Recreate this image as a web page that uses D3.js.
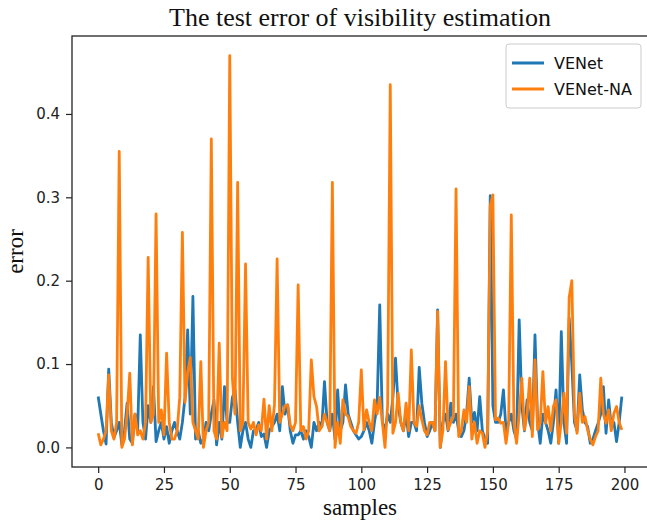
<!doctype html>
<html lang="en">
<head>
  <meta charset="utf-8">
  <title>The test error of visibility estimation</title>
  <script src="https://cdn.jsdelivr.net/npm/d3@7"></script>
  <style>
    body { margin: 0; background: #fff; }
  </style>
</head>
<body>
  <svg id="chart" width="647" height="524"></svg>
  <script>
    // series values, one per sample (0..199)
    var venet = [
      0.061, 0.04, 0.02, 0.004, 0.094, 0.03, 0.012, 0.02, 0.03, 0.003,
      0.02, 0.053, 0.01, 0.005, 0.04, 0.02, 0.135, 0.03, 0.01, 0.05,
      0.03, 0.073, 0.007, 0.02, 0.03, 0.01, 0.025, 0.005, 0.02, 0.03,
      0.02, 0.01, 0.03, 0.06, 0.141, 0.04, 0.181, 0.01, 0.02, 0.005,
      0.01, 0.03, 0.02, 0.04, 0.057, 0.003, 0.03, 0.01, 0.073, 0.03,
      0.03, 0.06, 0.069, 0.03, 0.0, 0.02, 0.03, 0.01, 0.0, 0.02,
      0.021, 0.03, 0.013, 0.016, 0.0, 0.02, 0.025, 0.03, 0.04, 0.02,
      0.073, 0.04, 0.051, 0.02, 0.005, 0.015, 0.015, 0.02, 0.01, 0.02,
      0.013, 0.0, 0.03, 0.02, 0.03, 0.025, 0.079, 0.03, 0.02, 0.04,
      0.01, 0.069, 0.02, 0.03, 0.075, 0.04, 0.03, 0.02, 0.015, 0.01,
      0.013, 0.02, 0.03, 0.02, 0.005, 0.03, 0.05, 0.171, 0.03, 0.02,
      0.04, 0.03, 0.06, 0.107, 0.05, 0.03, 0.02, 0.04, 0.013, 0.03,
      0.03, 0.02, 0.096, 0.053, 0.03, 0.013, 0.02, 0.03, 0.02, 0.165,
      0.0, 0.03, 0.04, 0.02, 0.053, 0.03, 0.04, 0.02, 0.013, 0.02,
      0.04, 0.083, 0.03, 0.042, 0.02, 0.061, 0.02, 0.01, 0.005, 0.302,
      0.05, 0.03, 0.03, 0.04, 0.069, 0.02, 0.03, 0.04, 0.02, 0.01,
      0.153, 0.05, 0.02, 0.057, 0.03, 0.02, 0.135, 0.03, 0.005, 0.04,
      0.03, 0.02, 0.005, 0.03, 0.069, 0.005, 0.139, 0.03, 0.005, 0.155,
      0.1, 0.03, 0.02, 0.087, 0.045, 0.03, 0.025, 0.005, 0.01, 0.02,
      0.029, 0.04, 0.073, 0.017, 0.057, 0.025, 0.03, 0.007, 0.03, 0.061
    ];
    var venetNA = [
      0.017, 0.003, 0.01, 0.02, 0.087, 0.02, 0.01, 0.03, 0.355, 0.0,
      0.01, 0.04, 0.089, 0.003, 0.04, 0.015, 0.02, 0.01, 0.03, 0.228,
      0.03, 0.04, 0.28, 0.03, 0.045, 0.015, 0.113, 0.03, 0.01, 0.01,
      0.02, 0.06, 0.258, 0.054, 0.09, 0.108, 0.03, 0.02, 0.01, 0.103,
      0.0, 0.02, 0.03, 0.37, 0.02, 0.01, 0.125, 0.012, 0.03, 0.02,
      0.47, 0.083, 0.04, 0.318, 0.02, 0.03, 0.22, 0.03, 0.022, 0.03,
      0.015, 0.027, 0.02, 0.058, 0.01, 0.05, 0.02, 0.051, 0.226, 0.03,
      0.04, 0.05, 0.051, 0.027, 0.02, 0.03, 0.195, 0.02, 0.025, 0.01,
      0.02, 0.105, 0.061, 0.049, 0.02, 0.025, 0.04, 0.03, 0.02, 0.318,
      0.0, 0.03, 0.005, 0.057, 0.04, 0.037, 0.025, 0.02, 0.017, 0.03,
      0.093, 0.021, 0.045, 0.03, 0.02, 0.057, 0.04, 0.06, 0.03, 0.0,
      0.05, 0.435, 0.017, 0.03, 0.065, 0.03, 0.02, 0.053, 0.02, 0.117,
      0.03, 0.025, 0.05, 0.033, 0.02, 0.015, 0.03, 0.03, 0.02, 0.163,
      0.0, 0.02, 0.103, 0.021, 0.03, 0.037, 0.31, 0.013, 0.02, 0.045,
      0.03, 0.073, 0.01, 0.03, 0.005, 0.02, 0.017, 0.0, 0.02, 0.29,
      0.303, 0.033, 0.035, 0.029, 0.03, 0.005, 0.03, 0.279, 0.03, 0.005,
      0.04, 0.083, 0.021, 0.04, 0.083, 0.013, 0.105, 0.021, 0.03, 0.091,
      0.029, 0.049, 0.02, 0.049, 0.057, 0.005, 0.03, 0.065, 0.017, 0.18,
      0.2, 0.04, 0.017, 0.065, 0.03, 0.037, 0.021, 0.01, 0.003, 0.013,
      0.02, 0.083, 0.04, 0.029, 0.045, 0.02, 0.041, 0.049, 0.03, 0.021
    ];
    var seriesNames = ["VENet", "VENet-NA"];
    var seriesColors = ["#1f77b4", "#ff7f0e"];
    var xTicks = [0, 25, 50, 75, 100, 125, 150, 175, 200];
    var yTicks = [0.0, 0.1, 0.2, 0.3, 0.4];

    var svg = d3.select("#chart");
    // plot box (right edge sits just past the picture, as in the original)
    var boxL = 72, boxR = 648, boxT = 36, boxB = 467;

    var n = venet.length;
    var allVals = venet.concat(venetNA);
    var yMin = d3.min(allVals), yMax = d3.max(allVals);
    var yPad = (yMax - yMin) * 0.05, xPad = (n - 1) * 0.05;

    var x = d3.scaleLinear().domain([-xPad, n - 1 + xPad]).range([boxL, boxR]);
    var y = d3.scaleLinear().domain([yMin - yPad, yMax + yPad]).range([boxB, boxT]);

    var line = d3.line().x((d, i) => x(i)).y(d => y(d));

    svg.append("clipPath").attr("id", "clip")
      .append("rect").attr("x", boxL).attr("y", boxT)
      .attr("width", boxR - boxL).attr("height", boxB - boxT);

    [venet, venetNA].forEach((s, k) => {
      svg.append("path")
        .datum(s)
        .attr("clip-path", "url(#clip)")
        .attr("d", line)
        .attr("fill", "none")
        .attr("stroke", seriesColors[k])
        .attr("stroke-width", 2.8)
        .attr("stroke-linejoin", "round");
    });

    var xAxis = svg.append("g")
      .attr("transform", "translate(0," + boxB + ")")
      .call(d3.axisBottom(x).tickValues(xTicks).tickSize(6).tickPadding(6).tickFormat(d3.format("d")));
    var yAxis = svg.append("g")
      .attr("transform", "translate(" + boxL + ",0)")
      .call(d3.axisLeft(y).tickValues(yTicks).tickSize(6).tickPadding(6).tickFormat(d3.format(".1f")));
    [xAxis, yAxis].forEach(g => {
      g.select(".domain").remove();
      g.selectAll(".tick line").attr("stroke", "#222").attr("stroke-width", 1.2);
      g.selectAll(".tick text")
        .style("font-family", "DejaVu Sans")
        .style("font-size", "15px")
        .attr("fill", "#222");
    });

    // plot frame
    svg.append("rect")
      .attr("x", boxL).attr("y", boxT)
      .attr("width", boxR - boxL).attr("height", boxB - boxT)
      .attr("fill", "none").attr("stroke", "#222").attr("stroke-width", 1.3);

    svg.append("text")
      .attr("x", (boxL + boxR) / 2).attr("y", 26)
      .attr("text-anchor", "middle")
      .attr("fill", "#111")
      .style("font-family", "Liberation Serif")
      .style("font-size", "26px")
      .text("The test error of visibility estimation");

    svg.append("text")
      .attr("x", (boxL + boxR) / 2).attr("y", 515)
      .attr("text-anchor", "middle")
      .attr("fill", "#111")
      .style("font-family", "Liberation Serif")
      .style("font-size", "23px")
      .text("samples");

    svg.append("text")
      .attr("transform", "translate(23," + ((boxT + boxB) / 2) + ") rotate(-90)")
      .attr("text-anchor", "middle")
      .attr("fill", "#111")
      .style("font-family", "Liberation Serif")
      .style("font-size", "23px")
      .text("error");

    // legend
    var lg = svg.append("g").attr("transform", "translate(506,44)");
    lg.append("rect")
      .attr("width", 135).attr("height", 64).attr("rx", 3)
      .attr("fill", "#fff").attr("fill-opacity", 0.8)
      .attr("stroke", "#ccc");
    seriesNames.forEach((name, k) => {
      var row = lg.append("g").attr("transform", "translate(0," + (19 + k * 26) + ")");
      row.append("line")
        .attr("x1", 6).attr("x2", 38)
        .attr("stroke", seriesColors[k]).attr("stroke-width", 3);
      row.append("text")
        .attr("x", 48).attr("dy", "0.35em")
        .attr("fill", "#111")
        .style("font-family", "DejaVu Sans")
        .style("font-size", "16px")
        .text(name);
    });
  </script>
</body>
</html>
